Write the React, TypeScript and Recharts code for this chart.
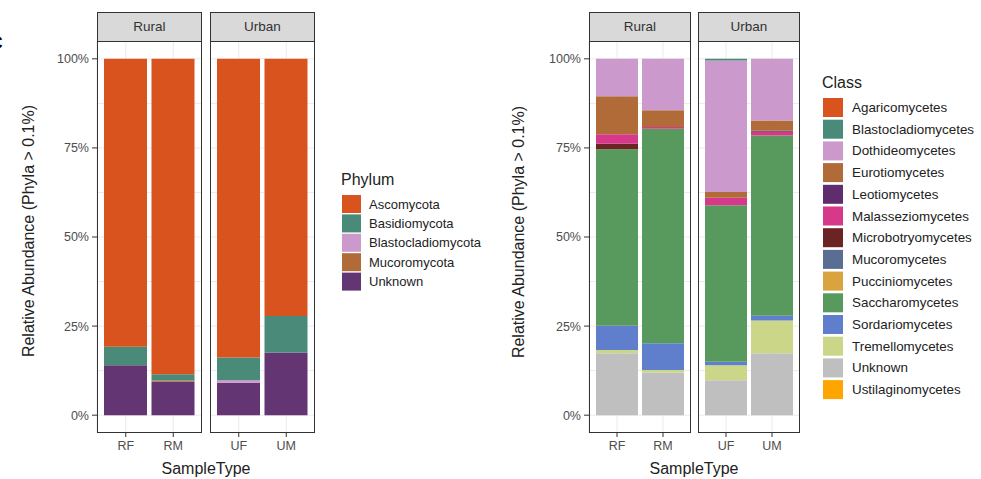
import React from 'react';
import { BarChart, Bar, XAxis, YAxis, CartesianGrid } from 'recharts';

// ---------- data ----------
const facets = ['Rural', 'Urban'];
const facetSamples = [['RF', 'RM'], ['UF', 'UM']];
const samples = ['RF', 'RM', 'UF', 'UM'];
const yTicks = [0, 25, 50, 75, 100];
const gridValues = [0, 12.5, 25, 37.5, 50, 62.5, 75, 87.5, 100];

// Phylum (values for RF, RM, UF, UM, in %)
const phylumNames = ['Ascomycota', 'Basidiomycota', 'Blastocladiomycota', 'Mucoromycota', 'Unknown'];
const phylumColors = ['#D9531E', '#4A8A78', '#CC99CC', '#B06B38', '#633572'];
const ascomycota = [80.8, 88.5, 83.8, 72.2];
const basidiomycota = [5.2, 1.8, 6.4, 10.2];
const blastocladiomycota = [0, 0, 0.7, 0];
const mucoromycota = [0, 0.3, 0, 0];
const phylumUnknown = [14.0, 9.4, 9.1, 17.6];
const phylumValues = [ascomycota, basidiomycota, blastocladiomycota, mucoromycota, phylumUnknown];

// Class (values for RF, RM, UF, UM, in %)
const classNames = [
  'Agaricomycetes', 'Blastocladiomycetes', 'Dothideomycetes', 'Eurotiomycetes', 'Leotiomycetes',
  'Malasseziomycetes', 'Microbotryomycetes', 'Mucoromycetes', 'Pucciniomycetes', 'Saccharomycetes',
  'Sordariomycetes', 'Tremellomycetes', 'Unknown', 'Ustilaginomycetes',
];
const classColors = [
  '#D9531E', '#4A8A78', '#CC99CC', '#B06B38', '#5F2D6E',
  '#D6398A', '#6A2424', '#5A6E94', '#D9A33F', '#589A5D',
  '#5F7FCC', '#CCD688', '#BFBFBF', '#FFA500',
];
const agaricomycetes = [0, 0, 0, 0];
const blastocladiomycetes = [0, 0, 0.5, 0];
const dothideomycetes = [10.5, 14.4, 36.9, 17.3];
const eurotiomycetes = [10.7, 4.7, 1.6, 2.9];
const leotiomycetes = [0, 0, 0, 0.3];
const malasseziomycetes = [2.6, 0.5, 2.1, 1.0];
const microbotryomycetes = [1.6, 0, 0, 0];
const mucoromycetes = [0, 0, 0, 0];
const pucciniomycetes = [0, 0, 0, 0];
const saccharomycetes = [49.5, 60.2, 43.9, 50.6];
const sordariomycetes = [6.8, 7.5, 1.0, 1.3];
const tremellomycetes = [0.9, 0.7, 4.2, 9.2];
const classUnknown = [17.4, 12.0, 9.8, 17.4];
const ustilaginomycetes = [0, 0, 0, 0];
const classValues = [
  agaricomycetes, blastocladiomycetes, dothideomycetes, eurotiomycetes, leotiomycetes,
  malasseziomycetes, microbotryomycetes, mucoromycetes, pucciniomycetes, saccharomycetes,
  sordariomycetes, tremellomycetes, classUnknown, ustilaginomycetes,
];

// ---------- helpers ----------
const FONT = '"Liberation Sans", Arial, sans-serif';
const PANEL_TOP = 41;
const PANEL_H = 392;
const XAXIS_H = 36;
const YAXIS_W = 60;

function buildRows(names: string[], values: number[][], facetIndex: number) {
  return facetSamples[facetIndex].map((s) => {
    const i = samples.indexOf(s);
    const row: Record<string, any> = { sample: s };
    names.forEach((n, k) => {
      row[n] = values[k][i];
    });
    return row;
  });
}

type PanelProps = {
  x: number;
  width: number;
  withY: boolean;
  facetIndex: number;
  names: string[];
  colors: string[];
  values: number[][];
  barSize: number;
  pad: number;
};

function Panel({ x, width, withY, facetIndex, names, colors, values, barSize, pad }: PanelProps) {
  const rows = buildRows(names, values, facetIndex);
  const chartW = width + (withY ? YAXIS_W : 0);
  const left = x - (withY ? YAXIS_W : 0);
  const order = names.map((n, i) => i).reverse();
  return (
    <>
      <div style={{ position: 'absolute', left, top: PANEL_TOP }}>
        <BarChart
          width={chartW}
          height={PANEL_H + XAXIS_H}
          data={rows}
          margin={{ top: 0, right: 0, bottom: 0, left: 0 }}
          barSize={barSize}
        >
          <CartesianGrid stroke="#EBEBEB" horizontalValues={gridValues} />
          <XAxis
            dataKey="sample"
            height={XAXIS_H}
            axisLine={false}
            tickSize={4}
            tickMargin={4}
            tickLine={{ stroke: '#333333' }}
            tick={{ fill: '#4D4D4D', fontSize: 12.5, fontFamily: FONT }}
            padding={{ left: pad, right: pad }}
            interval={0}
          />
          <YAxis
            hide={!withY}
            width={YAXIS_W}
            type="number"
            domain={[-5, 105]}
            ticks={yTicks}
            allowDataOverflow
            axisLine={false}
            tickSize={5}
            tickMargin={3}
            tickLine={{ stroke: '#333333' }}
            tickFormatter={(v: number) => `${v}%`}
            tick={{ fill: '#4D4D4D', fontSize: 12.5, fontFamily: FONT }}
          />
          {order.map((k) => (
            <Bar
              key={names[k]}
              dataKey={names[k]}
              stackId="s"
              fill={colors[k]}
              isAnimationActive={false}
            />
          ))}
        </BarChart>
      </div>
      <div
        style={{
          position: 'absolute',
          left: x,
          top: PANEL_TOP,
          width,
          height: PANEL_H,
          border: '1px solid #333333',
          boxSizing: 'border-box',
          pointerEvents: 'none',
        }}
      />
      <div
        style={{
          position: 'absolute',
          left: x,
          top: 12,
          width,
          height: 30,
          background: '#D9D9D9',
          border: '1px solid #333333',
          boxSizing: 'border-box',
          fontFamily: FONT,
          fontSize: 13.5,
          color: '#333333',
          textAlign: 'center',
          lineHeight: '28px',
        }}
      >
        {facets[facetIndex]}
      </div>
    </>
  );
}

function Legend({ title, names, colors, x, titleY, keyTop, pitch, keyW, keyH, labelX, fontSize }: any) {
  return (
    <g fontFamily={FONT}>
      <text x={x} y={titleY} fontSize={16} fill="#222222">
        {title}
      </text>
      {names.map((n: string, i: number) => (
        <g key={n}>
          <rect x={x + 1} y={keyTop + i * pitch} width={keyW} height={keyH} fill={colors[i]} />
          <text
            x={labelX}
            y={keyTop + i * pitch + keyH / 2}
            fontSize={fontSize}
            fill="#222222"
            dominantBaseline="central"
          >
            {n}
          </text>
        </g>
      ))}
    </g>
  );
}

export default function App() {
  return (
    <div
      style={{
        position: 'absolute',
        left: 0,
        top: 0,
        width: 981,
        height: 479,
        background: '#ffffff',
        overflow: 'hidden',
      }}
    >
      {/* Left figure: Phylum */}
      <Panel x={97} width={105} withY facetIndex={0} names={phylumNames} colors={phylumColors} values={phylumValues} barSize={43} pad={5} />
      <Panel x={210} width={105} withY={false} facetIndex={1} names={phylumNames} colors={phylumColors} values={phylumValues} barSize={43} pad={5} />

      {/* Right figure: Class */}
      <Panel x={589} width={102} withY facetIndex={0} names={classNames} colors={classColors} values={classValues} barSize={42} pad={5} />
      <Panel x={698} width={102} withY={false} facetIndex={1} names={classNames} colors={classColors} values={classValues} barSize={42} pad={5} />

      <svg width={981} height={479} style={{ position: 'absolute', left: 0, top: 0, pointerEvents: 'none' }}>
        <text x={-11} y={49} fontSize={19} fontWeight="bold" fontFamily={FONT} fill="#000">
          C
        </text>
        <text
          transform="translate(28,231) rotate(-90)"
          textAnchor="middle"
          dominantBaseline="central"
          fontSize={16}
          fontFamily={FONT}
          fill="#222222"
        >
          Relative Abundance (Phyla &gt; 0.1%)
        </text>
        <text
          transform="translate(518,232) rotate(-90)"
          textAnchor="middle"
          dominantBaseline="central"
          fontSize={16}
          fontFamily={FONT}
          fill="#222222"
        >
          Relative Abundance (Phyla &gt; 0.1%)
        </text>
        <text x={206} y={474} textAnchor="middle" fontSize={16} fontFamily={FONT} fill="#222222">
          SampleType
        </text>
        <text x={694} y={474} textAnchor="middle" fontSize={16} fontFamily={FONT} fill="#222222">
          SampleType
        </text>
        <Legend
          title="Phylum"
          names={phylumNames}
          colors={phylumColors}
          x={341}
          titleY={185}
          keyTop={195}
          pitch={19.4}
          keyW={19}
          keyH={18}
          labelX={369}
          fontSize={13}
        />
        <Legend
          title="Class"
          names={classNames}
          colors={classColors}
          x={822}
          titleY={88}
          keyTop={98}
          pitch={21.7}
          keyW={20}
          keyH={19}
          labelX={852}
          fontSize={13.4}
        />
      </svg>
    </div>
  );
}
